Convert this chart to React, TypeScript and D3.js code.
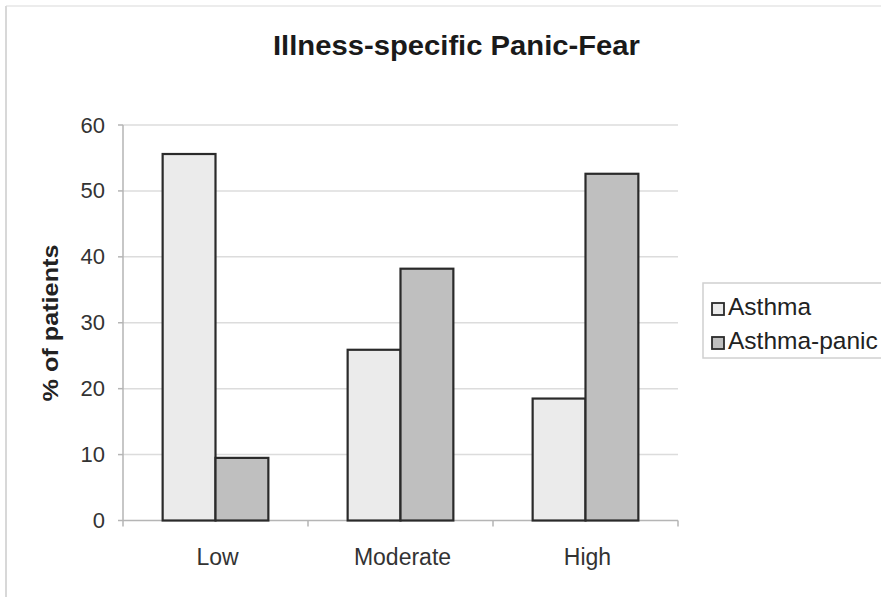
import React from "react";
import * as d3 from "d3";

const categories = ["Low", "Moderate", "High"];
const seriesNames = ["Asthma", "Asthma-panic"];
const asthma = [55.6, 25.9, 18.5];
const asthmaPanic = [9.5, 38.2, 52.6];
const yTicks = [0, 10, 20, 30, 40, 50, 60];

const W = 881;
const H = 597;
const colors = ["#ebebeb", "#bfbfbf"];

export default function App() {
  const left = 123, right = 678, top = 125, bottom = 520.5;
  const x = d3.scaleBand<string>().domain(categories).range([left, right]).paddingInner(0).paddingOuter(0);
  const inner = d3.scaleBand<string>().domain(seriesNames).range([0, x.bandwidth()]).paddingInner(0).paddingOuter(0.75);
  const y = d3.scaleLinear().domain([0, 60]).range([bottom, top]);
  const series = [asthma, asthmaPanic];
  const font = "'Liberation Sans', Arial, sans-serif";

  return (
    <svg width={W} height={H} style={{ position: "absolute", left: 0, top: 0, background: "#fff" }} fontFamily={font}>
      <rect x={0} y={0} width={W} height={H} fill="#fff" />
      <line x1={6} y1={6} x2={W} y2={6} stroke="#e6e6e6" strokeWidth={1.5} />
      <line x1={6} y1={6} x2={6} y2={H} stroke="#d8d8d8" strokeWidth={2} />
      <text x={273} y={55} fontSize={28} fontWeight="bold" fill="#1a1a1a" textLength={367} lengthAdjust="spacingAndGlyphs">
        Illness-specific Panic-Fear
      </text>
      {yTicks.filter(t => t > 0).map(t => (
        <line key={"g" + t} x1={left} x2={right} y1={y(t)} y2={y(t)} stroke="#dcdcdc" strokeWidth={1.5} />
      ))}
      <line x1={left} x2={left} y1={top} y2={bottom} stroke="#b5b5b5" strokeWidth={1.5} />
      <line x1={left} x2={right} y1={bottom} y2={bottom} stroke="#b5b5b5" strokeWidth={1.5} />
      {yTicks.map(t => (
        <g key={"t" + t}>
          <line x1={left - 5} x2={left} y1={y(t)} y2={y(t)} stroke="#b5b5b5" strokeWidth={1.5} />
          <text x={105} y={y(t) + 7.5} textAnchor="end" fontSize={22} fill="#333">{t}</text>
        </g>
      ))}
      {[...categories.map(c => x(c) as number), right].map((v, i) => (
        <line key={"xt" + i} x1={v} x2={v} y1={bottom} y2={bottom + 6} stroke="#b5b5b5" strokeWidth={1.5} />
      ))}
      {categories.map(c => (
        <text key={"xl" + c} x={(x(c) as number) + x.bandwidth() / 2 + 2} y={565} textAnchor="middle" fontSize={23} fill="#333">{c}</text>
      ))}
      <text transform={`translate(58,323) rotate(-90)`} textAnchor="middle" fontSize={22} fontWeight="bold" fill="#222" textLength={157} lengthAdjust="spacingAndGlyphs">% of patients</text>
      {series.map((vals, si) => categories.map((c, ci) => {
        const bx = (x(c) as number) + (inner(seriesNames[si]) as number);
        return (
          <rect key={`b${si}-${ci}`} x={bx} y={y(vals[ci])} width={inner.bandwidth()} height={bottom - y(vals[ci])}
            fill={colors[si]} stroke="#2a2a2a" strokeWidth={2.2} />
        );
      }))}
      <rect x={703} y={283} width={200} height={75} fill="#fff" stroke="#d0d0d0" strokeWidth={1.5} />
      {seriesNames.map((s, i) => (
        <g key={"lg" + s}>
          <rect x={712} y={303 + i * 34} width={12} height={12} fill={colors[i]} stroke="#2a2a2a" strokeWidth={1.8} />
          <text x={728} y={315 + i * 34} fontSize={24.5} fill="#222">{s}</text>
        </g>
      ))}
    </svg>
  );
}
